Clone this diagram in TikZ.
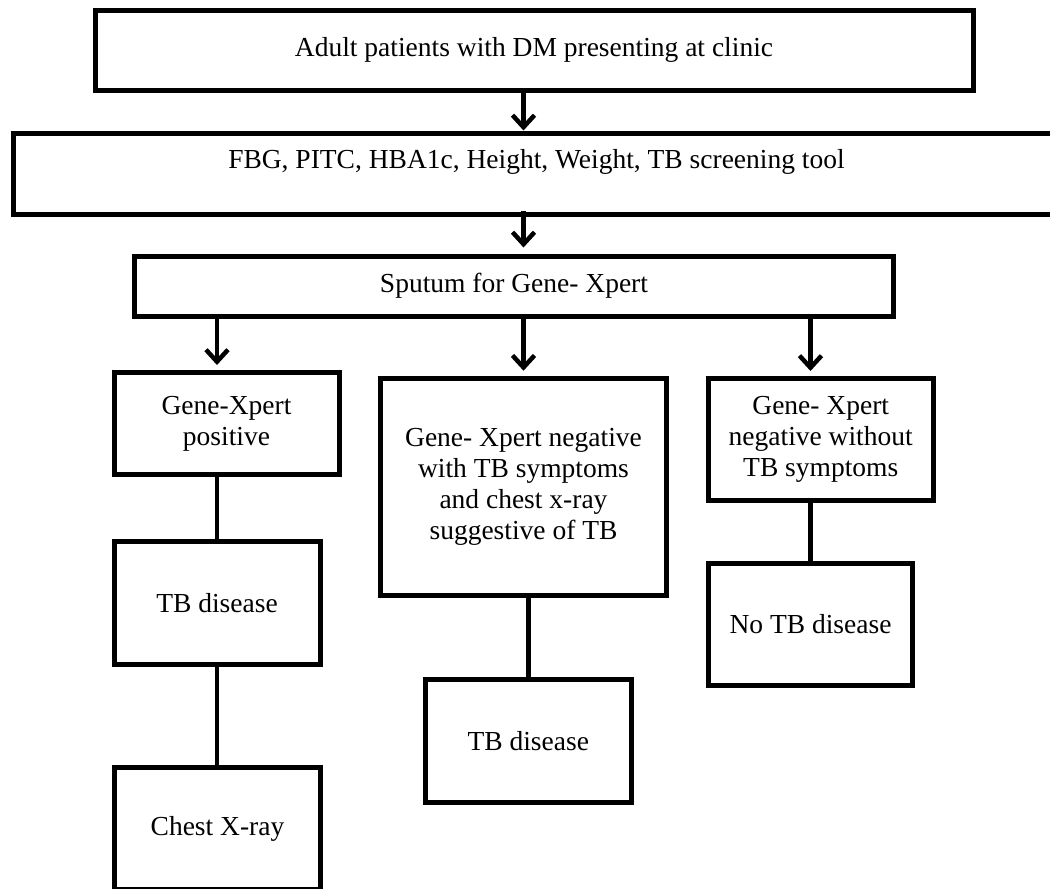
\documentclass[tikz,border=0pt]{standalone}
\usepackage{fontspec}
\setmainfont{Liberation Serif}
\usetikzlibrary{arrows.meta}

\begin{document}
\begin{tikzpicture}[x=1pt,y=-1pt,
    box/.style={draw,line width=5pt,align=center,inner sep=0pt,font=\fontsize{27.5}{31}\selectfont},
    flow/.style={line width=4.5pt,-{Straight Barb[length=12pt,width=22pt]}},
    link/.style={line width=4.5pt}]

  \useasboundingbox (0,0) rectangle (1050,889);
  \clip (0,0) rectangle (1050,889);

  \node[box,minimum width=878pt,minimum height=80pt] (adult) at (534,50) {Adult patients with DM presenting at clinic};
  \node[box,minimum width=1047pt,minimum height=81pt,text height=19pt,text depth=29pt] (screen) at (536.5,173.5) {FBG, PITC, HBA1c, Height, Weight, TB screening tool};
  \node[box,minimum width=759pt,minimum height=60pt] (sputum) at (514,286) {Sputum for Gene- Xpert};

  \node[box,minimum width=225pt,minimum height=102pt] (pos) at (226.5,423.5) {Gene-Xpert\\positive};
  \node[box,minimum width=286pt,minimum height=217.5pt] (negsym) at (523.5,487) {Gene- Xpert negative\\with TB symptoms\\and chest x-ray\\suggestive of TB};
  \node[box,minimum width=224.5pt,minimum height=122pt] (negnosym) at (820.75,439.5) {Gene- Xpert\\negative without\\TB symptoms};

  \node[box,minimum width=206pt,minimum height=122.5pt] (tbpos) at (217,602.75) {TB disease};
  \node[box,minimum width=206pt,minimum height=122pt] (cxr) at (217.5,828.5) {Chest X-ray};
  \node[box,minimum width=206.5pt,minimum height=123pt] (tbneg) at (528.25,741) {TB disease};
  \node[box,minimum width=204pt,minimum height=122pt] (notb) at (810.5,624.5) {No TB disease};

  % arrows down the main column
  \draw[flow] (adult.south -| negsym.north) -- (screen.north -| negsym.north);
  \draw[flow,shorten >=6pt] ([yshift=6pt]screen.south -| negsym.north) -- (sputum.north -| negsym.north);

  \foreach \dest/\col in {pos/tbpos,negsym/negsym,negnosym/notb}{
    \draw[flow,shorten >=5pt] ([yshift=4pt]sputum.south -| \col.north) -- (\dest.north -| \col.north);
  }

  \draw[link] (pos.south -| tbpos.north) -- (tbpos.north);
  \draw[link] (tbpos.south) -- (tbpos.south |- cxr.north);
  \draw[link] (negsym.south -| tbneg.north) -- (tbneg.north);
  \draw[link] (negnosym.south -| notb.north) -- (notb.north);

\end{tikzpicture}
\end{document}
